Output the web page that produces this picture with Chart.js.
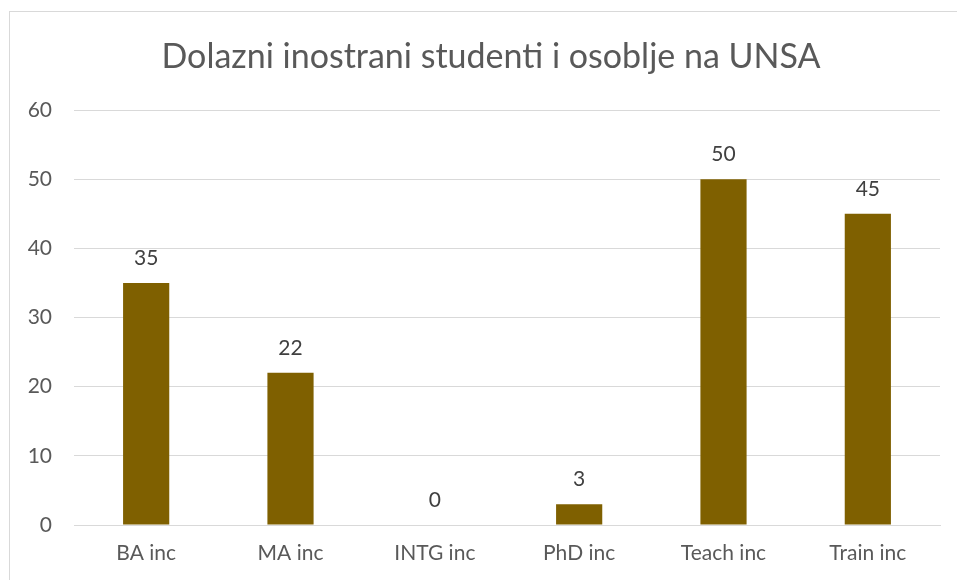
<!DOCTYPE html>
<html>
<head>
<meta charset="utf-8">
<script src="https://cdn.jsdelivr.net/npm/chart.js@4"></script>
<style>
html,body{margin:0;padding:0;background:#fff;}
#wrap{width:957px;height:580px;position:relative;}
</style>
</head>
<body>
<div id="wrap"><canvas id="c" width="957" height="580"></canvas></div>
<script>
const titleText = 'Dolazni inostrani studenti i osoblje na UNSA';
const categories = ['BA inc', 'MA inc', 'INTG inc', 'PhD inc', 'Teach inc', 'Train inc'];
const values = [35, 22, 0, 3, 50, 45];
const yTicks = [0, 10, 20, 30, 40, 50, 60];

const FONT = 'Lato, "Open Sans", sans-serif';

const frame = {
  id: 'frame',
  beforeDraw(chart) {
    const ctx = chart.ctx;
    ctx.save();
    ctx.fillStyle = '#fff';
    ctx.fillRect(0, 0, chart.width, chart.height);
    ctx.strokeStyle = '#d9d9d9';
    ctx.lineWidth = 1;
    ctx.strokeRect(9.5, 11.5, 2000, 2000);
    ctx.fillStyle = '#595959';
    ctx.font = '34px ' + FONT;
    ctx.textAlign = 'center';
    ctx.textBaseline = 'middle';
    ctx.fillText(titleText, 491, 57);
    ctx.restore();
  }
};

const labels = {
  id: 'labels',
  afterDatasetsDraw(chart) {
    const ctx = chart.ctx;
    const meta = chart.getDatasetMeta(0);
    ctx.save();
    ctx.fillStyle = '#404040';
    ctx.font = '21px ' + FONT;
    ctx.textAlign = 'center';
    ctx.textBaseline = 'middle';
    meta.data.forEach((bar, i) => {
      ctx.fillText(String(values[i]), bar.x, bar.y - 25);
    });
    ctx.restore();
  }
};

new Chart(document.getElementById('c'), {
  type: 'bar',
  data: {
    labels: categories,
    datasets: [{
      data: values,
      backgroundColor: '#7f6000',
      borderWidth: 0,
      barPercentage: 0.32,
      categoryPercentage: 1.0
    }]
  },
  options: {
    responsive: false,
    animation: false,
    layout: { padding: { top: 110, left: 0, right: 17, bottom: 0 } },
    plugins: {
      legend: { display: false },
      tooltip: { enabled: false },
      title: { display: false }
    },
    scales: {
      x: {
        grid: { display: false, drawTicks: false },
        border: { display: true, color: '#d9d9d9', width: 1 },
        ticks: { color: '#595959', font: { family: FONT, size: 21 }, padding: 16, maxRotation: 0 },
        afterFit(s) { s.height = 55; }
      },
      y: {
        min: 0, max: 60,
        afterBuildTicks(s) { s.ticks = yTicks.map(v => ({ value: v })); },
        grid: { color: '#d9d9d9', lineWidth: 1, drawTicks: false },
        border: { display: false },
        ticks: { color: '#595959', font: { family: FONT, size: 21 }, padding: 22 },
        afterFit(s) { s.width = 74; }
      }
    }
  },
  plugins: [frame, labels]
});
</script>
</body>
</html>
